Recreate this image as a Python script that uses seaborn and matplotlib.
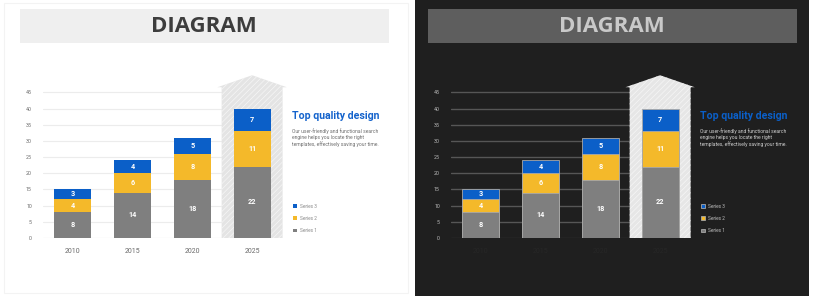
import matplotlib
matplotlib.use("Agg")
import matplotlib.pyplot as plt
from matplotlib.patches import Rectangle, Polygon
import seaborn as sns
import numpy as np
import pandas as pd

# ---- data ----
years = ["2010", "2015", "2020", "2025"]
series1 = [8, 14, 18, 22]
series2 = [4, 6, 8, 11]
series3 = [3, 4, 5, 7]
series_names = ["Series 1", "Series 2", "Series 3"]
yticks = [0, 5, 10, 15, 20, 25, 30, 35, 40, 45]
title_text = "DIAGRAM"
heading = "Top quality design"
body_lines = ["Our user-friendly and functional search",
              "engine helps you locate the right",
              "templates, effectively saving your time."]

W, H = 818, 296
sns.set_theme(style="white")
plt.rcParams["font.family"] = ["Roboto", "DejaVu Sans"]
plt.rcParams["hatch.linewidth"] = 0.5

fig = plt.figure(figsize=(W / 100, H / 100), dpi=100)
fig.patch.set_facecolor("white")

C_GRAY = "#7f7f7f"
C_YEL = "#f4b92a"
C_BLUE = "#0b5fc8"


def fr(x0, y0, x1, y1):
    return [x0 / W, 1 - y1 / H, (x1 - x0) / W, (y1 - y0) / H]


def panel(off, dark):
    bg = "#1f1f1f" if dark else "white"
    # panel background
    if dark:
        fig.patches.append(Rectangle((415 / W, 0), (809 - 415) / W, 1,
                                     transform=fig.transFigure, facecolor=bg,
                                     edgecolor="none", zorder=0))
    else:
        fig.patches.append(Rectangle((4 / W, 3 / H), (408 - 4) / W, (293 - 3) / H,
                                     transform=fig.transFigure, facecolor="white",
                                     edgecolor="#f3f3f3", lw=0.8, zorder=0))
    # title banner
    bcol = "#5e5e5e" if dark else "#efefef"
    tcol = "#c9c9c9" if dark else "#3d3d3d"
    fig.patches.append(Rectangle(((20 + off) / W, 1 - 43 / H), 369 / W, 34 / H,
                                 transform=fig.transFigure, facecolor=bcol,
                                 edgecolor="none", zorder=1))
    fig.text((204 + off) / W, 1 - 26.5 / H, title_text, ha="center", va="center",
             fontsize=16, fontweight="bold", color=tcol,
             family=["Open Sans", "DejaVu Sans"], zorder=2)

    ax = fig.add_axes(fr(43 + off, 73, 282 + off, 238))
    ax.set_facecolor("none")
    ax.set_zorder(3)

    df = pd.DataFrame({"year": years, "s1": series1, "s2": series2, "s3": series3})
    df["top2"] = df["s1"] + df["s2"]
    df["total"] = df["top2"] + df["s3"]

    ec = "#a8a8a8" if dark else "none"
    lw = 0.6 if dark else 0
    for col, c, lab in [("total", C_BLUE, series_names[2]),
                        ("top2", C_YEL, series_names[1]),
                        ("s1", C_GRAY, series_names[0])]:
        sns.barplot(data=df, x="year", y=col, color=c, width=0.62, ax=ax,
                    saturation=1, edgecolor=ec, linewidth=lw, label=lab,
                    zorder=3)

    ax.set_xlim(-0.5, 3.5)
    ax.set_ylim(0, 51)
    ax.set_xlabel("")
    ax.set_ylabel("")

    # arrow shape behind last bar
    i = len(years) - 1
    arrow = Polygon([(i - 0.51, 0), (i - 0.51, 46.6), (i - 0.58, 46.6), (i, 50.3),
                     (i + 0.58, 46.6), (i + 0.51, 46.6), (i + 0.51, 0)],
                    closed=True, facecolor="#e4e4e4" if not dark else "#e6e6e6",
                    edgecolor="#f6f6f6", lw=0, hatch="//////",
                    clip_on=False, zorder=2)
    ax.add_patch(arrow)

    # grid lines
    gcol = "#565656" if dark else "#ececec"
    for y in yticks[1:]:
        ax.axhline(y, color=gcol, lw=1.0 if dark else 0.8, zorder=1)
    ax.axhline(0, color="#6a6a6a" if dark else "#d0d0d0", lw=0.8, zorder=1)

    for s in ax.spines.values():
        s.set_visible(False)
    ax.set_yticks(yticks)
    ax.set_yticklabels([str(v) for v in yticks])
    lab_col = "#bdbdbd" if dark else "#6a6a6a"
    ax.tick_params(axis="y", length=0, labelsize=3.8, labelcolor=lab_col, pad=8)
    ax.tick_params(axis="x", length=0, labelsize=5.0,
                   labelcolor="#272727" if dark else "#6a6a6a", pad=7)
    ax.set_xticks(range(len(years)))
    ax.set_xticks([-0.5, 0.5, 1.5, 2.5], minor=True)
    ax.tick_params(axis="x", which="minor", length=2, width=0.5,
                   color="#6a6a6a" if dark else "#c8c8c8", direction="out")
    for t in ax.get_xticklabels() + ax.get_yticklabels():
        t.set_fontstretch("condensed")

    # bar value labels
    for k in range(len(years)):
        b1, b2, b3 = series1[k], series2[k], series3[k]
        for yc, v in [(b1 / 2, b1), (b1 + b2 / 2, b2), (b1 + b2 + b3 / 2, b3)]:
            ax.text(k, yc, str(v), ha="center", va="center", color="white",
                    fontsize=5.2, fontweight="bold", zorder=5)

    # heading + body text
    fig.text((292 + off) / W, 1 - 116 / H, heading, ha="left", va="center",
             fontsize=7.6, fontweight="bold", color="#1463cc" if not dark else "#0b5fc8",
             fontstretch="condensed")
    tc = "#6e6e6e" if not dark else "#d0d0d0"
    for j, line in enumerate(body_lines):
        fig.text((292 + off) / W, 1 - (131.5 + 6.2 * j) / H, line, ha="left",
                 va="center", fontsize=3.6, color=tc)

    # legend
    handles, labels = ax.get_legend_handles_labels()
    order = [0, 1, 2]  # Series 3, Series 2, Series 1
    leg = ax.legend([handles[o] for o in order], [labels[o] for o in order],
                    loc="upper left", bbox_to_anchor=((293 + off) / W, 1 - 204 / H),
                    bbox_transform=fig.transFigure, frameon=False,
                    fontsize=3.4, handlelength=0.9, handleheight=0.9,
                    handletextpad=0.5, labelspacing=1.5, borderaxespad=0,
                    borderpad=0)
    for t in leg.get_texts():
        t.set_color("#8a8a8a" if not dark else "#bdbdbd")
    return ax


panel(0, False)
panel(408, True)

fig.savefig("out.png", dpi=100, facecolor="white")
